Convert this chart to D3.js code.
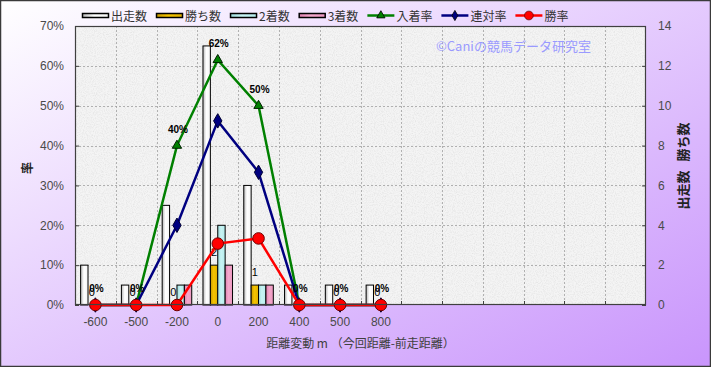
<!DOCTYPE html>
<html>
<head>
<meta charset="utf-8">
<script src="https://cdn.jsdelivr.net/npm/d3@7"></script>
<style>
  body { margin: 0; padding: 0; }
  svg { display: block; }
  text { font-family: "Liberation Sans", "Noto Sans CJK JP", sans-serif; }
</style>
</head>
<body>
<svg id="chart"></svg>
<script>
var width = 711;
var height = 367;

// data
var categories = ["-600", "-500", "-200", "0", "200", "400", "500", "800"];
var slots = 14; // the category axis has 6 empty slots on the right
var starts  = [2, 1, 5, 13, 6, 1, 1, 1];  // 出走数
var wins    = [0, 0, 0, 2, 1, 0, 0, 0];   // 勝ち数
var seconds = [0, 0, 1, 4, 1, 0, 0, 0];   // 2着数
var thirds  = [0, 0, 1, 2, 1, 0, 0, 0];   // 3着数
var placeRate = [0, 0, 0.40, 0.615, 0.50, 0, 0, 0];   // 入着率
var rentaiRate = [0, 0, 0.20, 0.462, 0.333, 0, 0, 0]; // 連対率
var winRate = [0, 0, 0, 0.154, 0.167, 0, 0, 0];       // 勝率
var leftTicks = [0, 0.1, 0.2, 0.3, 0.4, 0.5, 0.6, 0.7];
var rightTicks = [0, 2, 4, 6, 8, 10, 12, 14];

var barSeries = [
  {name: "出走数", values: starts, fill: "url(#gWhite)"},
  {name: "勝ち数", values: wins, fill: "url(#gGold)"},
  {name: "2着数", values: seconds, fill: "url(#gCyan)"},
  {name: "3着数", values: thirds, fill: "url(#gPink)"}
];
var lineSeries = [
  {name: "入着率", values: placeRate, color: "#008000", marker: "triangle"},
  {name: "連対率", values: rentaiRate, color: "#000080", marker: "diamond"},
  {name: "勝率", values: winRate, color: "#ff0000", marker: "circle"}
];

var plot = {left: 75, right: 646, top: 26, bottom: 305};

var svg = d3.select("#chart").attr("width", width).attr("height", height);
var defs = svg.append("defs");

// background gradient
var bg = defs.append("linearGradient").attr("id", "bg")
  .attr("x1", 0).attr("y1", 0).attr("x2", 1).attr("y2", 1);
bg.append("stop").attr("offset", "0%").attr("stop-color", "#ffffff");
bg.append("stop").attr("offset", "100%").attr("stop-color", "#c995fc");

function barGrad(id, c1, c2, c3) {
  var g = defs.append("linearGradient").attr("id", id)
    .attr("x1", 0).attr("y1", 0).attr("x2", 1).attr("y2", 0);
  g.append("stop").attr("offset", "0%").attr("stop-color", c1);
  g.append("stop").attr("offset", "45%").attr("stop-color", c2);
  g.append("stop").attr("offset", "100%").attr("stop-color", c3);
}
barGrad("gWhite", "#b8b8b8", "#ffffff", "#f4f4f4");
barGrad("gGold", "#c89a00", "#f5c400", "#e0b000");
barGrad("gCyan", "#9edcdc", "#c8f4f4", "#b4ecec");
barGrad("gPink", "#e080b0", "#f4a8cc", "#ec98c0");

// granite-like texture for the plot area
var f = defs.append("filter").attr("id", "granite")
  .attr("x", 0).attr("y", 0).attr("width", 1).attr("height", 1);
f.append("feTurbulence").attr("type", "fractalNoise").attr("baseFrequency", 0.9)
  .attr("numOctaves", 2).attr("seed", 3).attr("result", "n");
f.append("feColorMatrix").attr("type", "matrix")
  .attr("values", "0 0 0 0 0.6  0 0 0 0 0.6  0 0 0 0 0.6  0.8 0 0 0 -0.32");

svg.append("rect").attr("x", 0.5).attr("y", 0.5)
  .attr("width", width - 1).attr("height", height - 1)
  .attr("fill", "url(#bg)").attr("stroke", "#3a3a3a").attr("stroke-width", 1.5);

// scales
var slotKeys = d3.range(slots).map(function(i) { return i < categories.length ? categories[i] : "_" + i; });
var x = d3.scaleBand().domain(slotKeys).range([plot.left, plot.right]);
var xSub = d3.scaleBand().domain(barSeries.map(function(s) { return s.name; }))
  .range([0, x.bandwidth()]).paddingOuter(0.76);
var yL = d3.scaleLinear().domain([0, 0.7]).range([plot.bottom, plot.top]);
var yR = d3.scaleLinear().domain([0, 14]).range([plot.bottom, plot.top]);

// plot area
svg.append("rect").attr("x", plot.left).attr("y", plot.top)
  .attr("width", plot.right - plot.left).attr("height", plot.bottom - plot.top)
  .attr("fill", "#f4f4f4");
svg.append("rect").attr("x", plot.left).attr("y", plot.top)
  .attr("width", plot.right - plot.left).attr("height", plot.bottom - plot.top)
  .attr("filter", "url(#granite)");

// grid
var grid = svg.append("g").attr("stroke", "#a0a0a0").attr("stroke-dasharray", "2,2").attr("stroke-width", 0.8);
leftTicks.slice(1, -1).forEach(function(t) {
  grid.append("line").attr("x1", plot.left).attr("x2", plot.right)
    .attr("y1", Math.round(yL(t)) + 0.5).attr("y2", Math.round(yL(t)) + 0.5);
});
slotKeys.slice(1).forEach(function(k) {
  var xx = Math.round(x(k)) + 0.5;
  grid.append("line").attr("x1", xx).attr("x2", xx).attr("y1", plot.top).attr("y2", plot.bottom);
});

// watermark
svg.append("text").attr("x", 436).attr("y", 51)
  .attr("font-size", 13).attr("fill", "#9a9aff")
  .style("font-family", "'Noto Sans CJK JP', sans-serif")
  .text("©Caniの競馬データ研究室");

// bars
barSeries.forEach(function(s) {
  svg.append("g").selectAll("rect").data(categories).enter().append("rect")
    .attr("x", function(c) { return x(c) + xSub(s.name); })
    .attr("width", xSub.bandwidth())
    .attr("y", function(c, i) { return yR(s.values[i]); })
    .attr("height", function(c, i) { return plot.bottom - yR(s.values[i]); })
    .attr("fill", s.fill).attr("stroke", "#000").attr("stroke-width", 1)
    .style("display", function(c, i) { return s.values[i] > 0 ? null : "none"; });
});

// labels of 勝ち数
svg.append("g").selectAll("text").data(categories).enter().append("text")
  .attr("x", function(c) { return x(c) + xSub("勝ち数") + xSub.bandwidth() / 2; })
  .attr("y", function(c, i) { return yR(wins[i]) - 9; })
  .attr("text-anchor", "middle").attr("font-size", 11).attr("fill", "#000")
  .text(function(c, i) { return wins[i]; });

// lines
var symbols = {triangle: d3.symbolTriangle, diamond: d3.symbolDiamond, circle: d3.symbolCircle};
var sizes = {triangle: 38, diamond: 60, circle: 105};
lineSeries.forEach(function(s) {
  var line = d3.line()
    .x(function(c) { return x(c) + x.bandwidth() / 2; })
    .y(function(c, i) { return yL(s.values[i]); });
  svg.append("path").datum(categories).attr("d", line)
    .attr("fill", "none").attr("stroke", s.color).attr("stroke-width", 2.5);
  svg.append("g").selectAll("path").data(categories).enter().append("path")
    .attr("transform", function(c, i) {
      return "translate(" + (x(c) + x.bandwidth() / 2) + "," + yL(s.values[i]) + ")";
    })
    .attr("d", d3.symbol().type(symbols[s.marker]).size(sizes[s.marker]))
    .attr("fill", s.color)
    .attr("stroke", s.marker == "circle" ? "#700000" : (s.marker == "triangle" ? "#002000" : "#000030"))
    .attr("stroke-width", 1);
});

// labels of 入着率
svg.append("g").selectAll("text").data(categories).enter().append("text")
  .attr("x", function(c) { return x(c) + x.bandwidth() / 2 + 1; })
  .attr("y", function(c, i) { return yL(placeRate[i]) - 13; })
  .attr("text-anchor", "middle").attr("font-size", 10).attr("font-weight", "bold").attr("fill", "#000")
  .text(function(c, i) { return Math.round(placeRate[i] * 100) + "%"; });

// plot border
svg.append("rect").attr("x", plot.left + 0.5).attr("y", plot.top + 0.5)
  .attr("width", plot.right - plot.left - 1).attr("height", plot.bottom - plot.top - 1)
  .attr("fill", "none").attr("stroke", "#404040").attr("stroke-width", 1.2);

// axes
var axisL = svg.append("g").attr("transform", "translate(" + plot.left + ",0)")
  .call(d3.axisLeft(yL).tickValues(leftTicks).tickFormat(d3.format(".0%")).tickSize(-4).tickPadding(11));
var axisR = svg.append("g").attr("transform", "translate(" + plot.right + ",0)")
  .call(d3.axisRight(yR).tickValues(rightTicks).tickSize(-4).tickPadding(12));
var axisB = svg.append("g").attr("transform", "translate(0," + plot.bottom + ")")
  .call(d3.axisBottom(x).tickValues(categories).tickSize(0).tickPadding(12));
[axisL, axisR, axisB].forEach(function(a) {
  a.select(".domain").remove();
  a.selectAll("line").attr("stroke", "#404040");
  a.selectAll("text").attr("font-size", 12).attr("fill", "#4a4a4a")
    .style("font-family", "'Liberation Sans', sans-serif");
});
// inside tick marks on the category axis
svg.append("g").selectAll("line").data(slotKeys.slice(1)).enter().append("line")
  .attr("x1", function(k) { return Math.round(x(k)) + 0.5; })
  .attr("x2", function(k) { return Math.round(x(k)) + 0.5; })
  .attr("y1", plot.bottom - 4).attr("y2", plot.bottom)
  .attr("stroke", "#404040");

// axis titles
svg.append("text").attr("transform", "translate(32,168) rotate(-90)")
  .attr("text-anchor", "middle").attr("font-size", 12).attr("font-weight", "bold").attr("fill", "#222")
  .style("font-family", "'Noto Sans CJK JP', sans-serif").text("率");
svg.append("text").attr("transform", "translate(688,166) rotate(-90)")
  .attr("text-anchor", "middle").attr("font-size", 13).attr("font-weight", "bold").attr("fill", "#222")
  .attr("xml:space", "preserve")
  .style("font-family", "'Noto Sans CJK JP', sans-serif").style("white-space", "pre")
  .text("出走数   勝ち数");
svg.append("text").attr("x", (plot.left + plot.right) / 2).attr("y", 348)
  .attr("text-anchor", "middle").attr("font-size", 12).attr("fill", "#404040")
  .style("font-family", "'Noto Sans CJK JP', sans-serif").text("距離変動 m （今回距離-前走距離）");

// legend
var legend = svg.append("g");
var lx = 82;
var items = barSeries.map(function(s) { return {name: s.name, fill: s.fill, kind: "bar"}; })
  .concat(lineSeries.map(function(s) { return {name: s.name, color: s.color, marker: s.marker, kind: "line"}; }));
items.forEach(function(it) {
  var g = legend.append("g").attr("transform", "translate(" + lx + ",0)");
  if (it.kind == "bar") {
    g.append("rect").attr("x", 0.5).attr("y", 13.5).attr("width", 26).attr("height", 4)
      .attr("fill", it.fill).attr("stroke", "#000").attr("stroke-width", 1.5);
  } else {
    g.append("line").attr("x1", 0).attr("x2", 27).attr("y1", 15.5).attr("y2", 15.5)
      .attr("stroke", it.color).attr("stroke-width", 2.5);
    g.append("path").attr("transform", "translate(13.5,15.5)")
      .attr("d", d3.symbol().type(symbols[it.marker]).size(it.marker == "circle" ? 60 : 30))
      .attr("fill", it.color).attr("stroke", it.marker == "circle" ? "#700000" : "#000").attr("stroke-width", 0.8);
  }
  var t = g.append("text").attr("x", 29).attr("y", 21)
    .attr("font-size", 12).attr("fill", "#333")
    .style("font-family", "'Noto Sans CJK JP', sans-serif").text(it.name);
  lx += 29 + t.node().getComputedTextLength() + 9;
});
</script>
</body>
</html>
